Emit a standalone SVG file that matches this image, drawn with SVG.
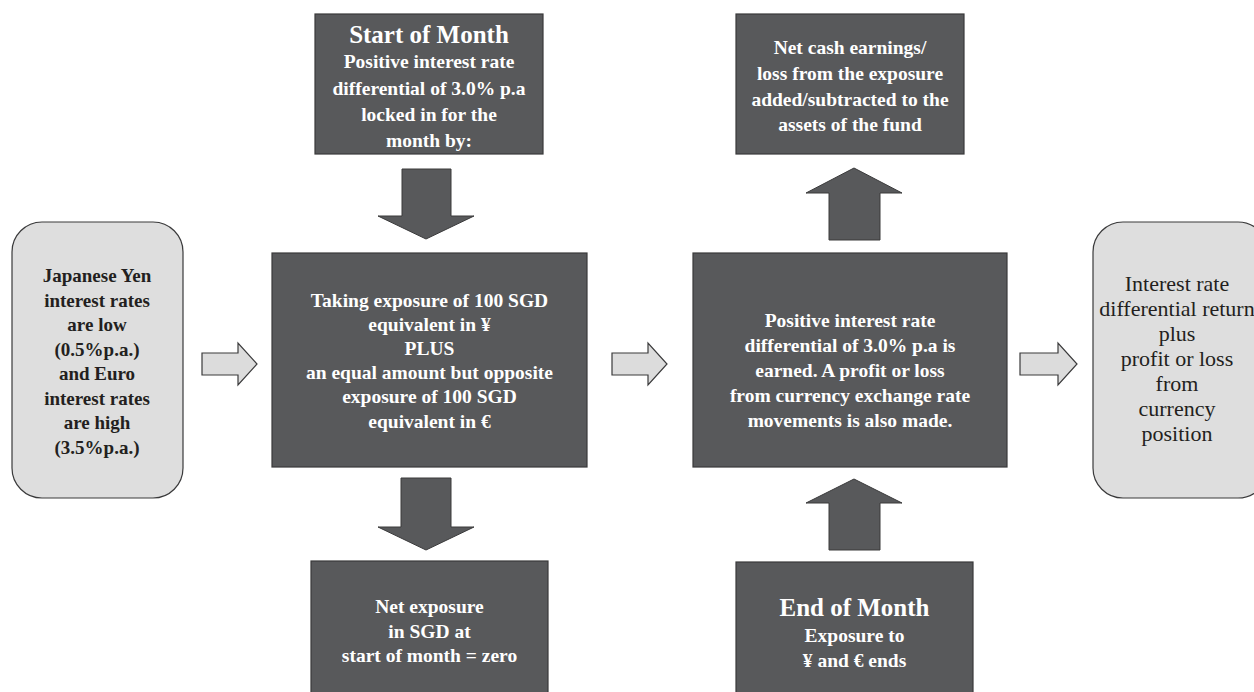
<svg xmlns="http://www.w3.org/2000/svg" width="1254" height="692" viewBox="0 0 1254 692">
<style>
.dark{fill:#58595b;stroke:#3a3a3b;stroke-width:1.2}
.light{fill:#dedede;stroke:#3a3a3b;stroke-width:1.2}
.harrow{fill:#dcdcdc;stroke:#3a3a3b;stroke-width:1.2}
.darrow{fill:#58595b;stroke:#3a3a3b;stroke-width:1}
text{font-family:"Liberation Serif","DejaVu Serif",serif;text-anchor:middle}
.w{fill:#ffffff;font-weight:bold;font-size:19.5px}
.wt{fill:#ffffff;font-weight:bold;font-size:25px}
.b{fill:#231f20;font-weight:bold;font-size:19px}
.r{fill:#231f20;font-size:22px}
</style>
<rect width="1254" height="692" fill="#ffffff"/>
<g id="connectors">
<polygon class="harrow" points="202,353 238,353 238,343 257,364 238,385 238,375 202,375"/>
<polygon class="harrow" points="612,353 648,353 648,343 667,364 648,385 648,375 612,375"/>
<polygon class="harrow" points="1020,353 1058,353 1058,343 1077,364 1058,385 1058,375 1020,375"/>
<polygon class="darrow" points="402,169 451,169 451,216 474,216 426,239 378,216 402,216"/>
<polygon class="darrow" points="401,478 451,478 451,527 474,527 426,550 378,527 401,527"/>
<polygon class="darrow" points="829,240 880,240 880,193 902,193 854,168 806,193 829,193"/>
<polygon class="darrow" points="829,550 880,550 880,503 902,503 854,479 806,503 829,503"/>
</g>
<g id="node-left">
<rect class="light" x="12" y="222" width="171" height="276" rx="30" ry="30"/>
<text class="b" x="97" y="282">Japanese Yen</text>
<text class="b" x="97" y="306.5">interest rates</text>
<text class="b" x="97" y="331">are low</text>
<text class="b" x="97" y="355.5">(0.5%p.a.)</text>
<text class="b" x="97" y="380">and Euro</text>
<text class="b" x="97" y="404.5">interest rates</text>
<text class="b" x="97" y="429">are high</text>
<text class="b" x="97" y="453.5">(3.5%p.a.)</text>
</g>
<g id="node-start">
<rect class="dark" x="315" y="14" width="228" height="140"/>
<text class="wt" x="429" y="43">Start of Month</text>
<text class="w" x="429" y="68">Positive interest rate</text>
<text class="w" x="429" y="94.5">differential of 3.0% p.a</text>
<text class="w" x="429" y="121">locked in for the</text>
<text class="w" x="429" y="147">month by:</text>
</g>
<g id="node-exposure">
<rect class="dark" x="272" y="253" width="315" height="214"/>
<text class="w" x="429.5" y="307">Taking exposure of 100 SGD</text>
<text class="w" x="429.5" y="331">equivalent in ¥</text>
<text class="w" x="429.5" y="355">PLUS</text>
<text class="w" x="429.5" y="379">an equal amount but opposite</text>
<text class="w" x="429.5" y="403">exposure of 100 SGD</text>
<text class="w" x="429.5" y="427.5">equivalent in €</text>
</g>
<g id="node-net">
<rect class="dark" x="311" y="561" width="237" height="140"/>
<text class="w" x="429.5" y="613">Net exposure</text>
<text class="w" x="429.5" y="637.5">in SGD at</text>
<text class="w" x="429.5" y="662">start of month = zero</text>
</g>
<g id="node-cash">
<rect class="dark" x="736" y="14" width="228" height="140"/>
<text class="w" x="850" y="54">Net cash earnings/</text>
<text class="w" x="850" y="80">loss from the exposure</text>
<text class="w" x="850" y="106">added/subtracted to the</text>
<text class="w" x="850" y="131">assets of the fund</text>
</g>
<g id="node-earned">
<rect class="dark" x="693" y="253" width="314" height="214"/>
<text class="w" x="850" y="327">Positive interest rate</text>
<text class="w" x="850" y="352">differential of 3.0% p.a is</text>
<text class="w" x="850" y="377">earned. A profit or loss</text>
<text class="w" x="850" y="402">from currency exchange rate</text>
<text class="w" x="850" y="427">movements is also made.</text>
</g>
<g id="node-end">
<rect class="dark" x="736" y="562" width="237" height="140"/>
<text class="wt" x="854.5" y="616">End of Month</text>
<text class="w" x="854.5" y="642">Exposure to</text>
<text class="w" x="854.5" y="667">¥ and € ends</text>
</g>
<g id="node-right">
<rect class="light" x="1093" y="222" width="175" height="276" rx="30" ry="30"/>
<text class="r" x="1177" y="291">Interest rate</text>
<text class="r" x="1177" y="316">differential return</text>
<text class="r" x="1177" y="341">plus</text>
<text class="r" x="1177" y="366">profit or loss</text>
<text class="r" x="1177" y="391">from</text>
<text class="r" x="1177" y="416">currency</text>
<text class="r" x="1177" y="441">position</text>
</g>
</svg>
